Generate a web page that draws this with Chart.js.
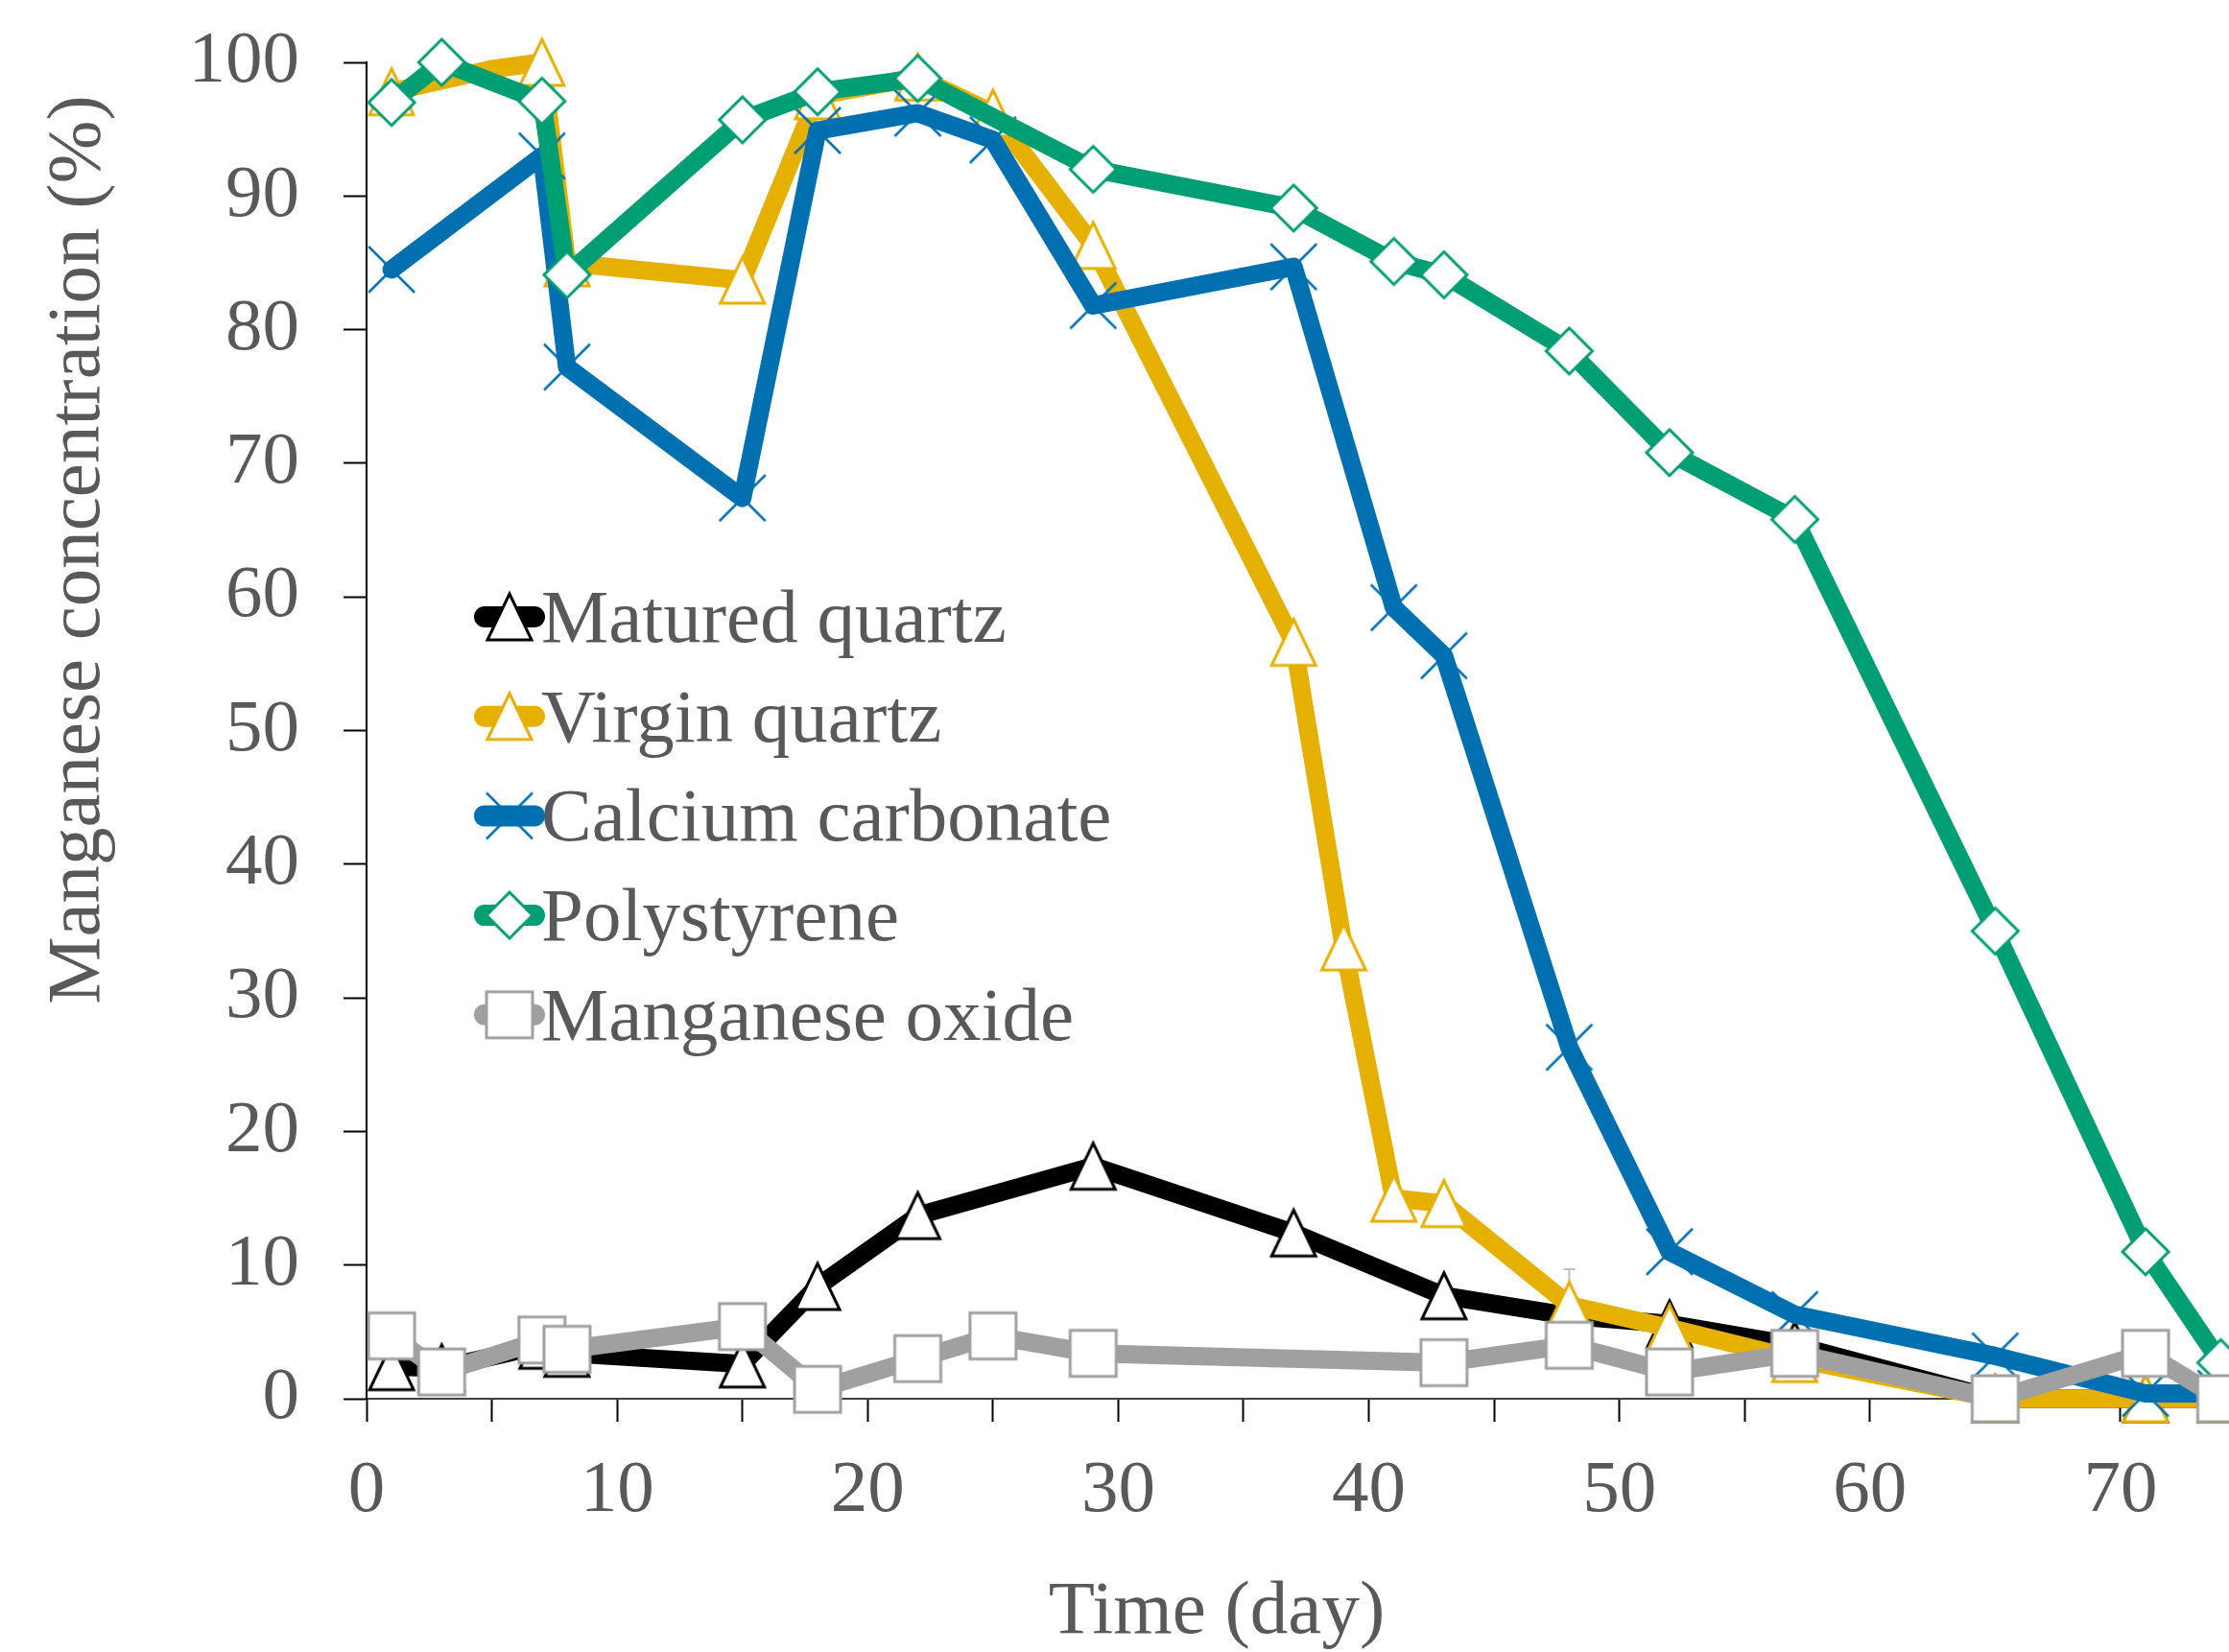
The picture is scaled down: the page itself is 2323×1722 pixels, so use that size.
<!DOCTYPE html>
<html>
<head>
<meta charset="utf-8">
<title>Manganese concentration</title>
<script src="https://cdn.jsdelivr.net/npm/chart.js@4.4.1/dist/chart.umd.min.js"></script>
<style>
  html, body { margin: 0; padding: 0; background: #fff; }
  #wrap { width: 2323px; height: 1722px; overflow: hidden; }
</style>
</head>
<body>
<div id="wrap"><canvas id="chart" width="2323" height="1722"></canvas></div>
<script>
/* Mn concentration vs time, five filter media */

// ── Data ────────────────────────────────────────────────────────────────────
const MATURED_DAYS = [1, 3, 7, 8, 15, 18, 22, 29, 37, 43, 48, 52, 57, 65, 71, 74];
const MATURED_VALS = [2.4, 2.3, 4.0, 3.4, 2.6, 8.4, 13.7, 17.4, 12.4, 7.7, 6.2, 5.6, 4.0, 0, 0, 0];

const VIRGIN_DAYS = [1, 5, 7, 8, 15, 18, 22, 25, 29, 37, 39, 41, 43, 48, 52, 57, 65, 71, 74];
const VIRGIN_VALS = [97.8, 99.5, 100, 85.0, 83.7, 97.5, 98.9, 96.2, 86.3, 56.6, 33.8, 15.0, 14.6, 7.0, 5.3, 3.0, 0, 0, 0];
const VIRGIN_HIDDEN = [5];            // kink in the line, no marker drawn
const VIRGIN_ERR_DAYS = [48];
const VIRGIN_ERR_VALS = [2.7];

const CACO3_DAYS = [1, 7, 8, 15, 18, 22, 25, 29, 37, 41, 43, 48, 52, 57, 65, 71, 74];
const CACO3_VALS = [84.5, 93.0, 77.2, 67.4, 94.9, 96.2, 94.2, 81.8, 84.7, 59.2, 55.6, 26.3, 11.0, 6.3, 3.2, 0.4, 0.4];

const PS_DAYS = [1, 3, 7, 8, 15, 18, 22, 29, 37, 41, 43, 48, 52, 57, 65, 71, 74];
const PS_VALS = [97.0, 100, 97.1, 84.1, 95.7, 97.8, 98.8, 92.0, 89.1, 85.1, 84.1, 78.4, 70.8, 65.8, 35.0, 11.0, 2.7];

const MNOX_DAYS = [1, 3, 7, 8, 15, 18, 22, 25, 29, 43, 48, 52, 57, 65, 71, 74];
const MNOX_VALS = [4.7, 2.0, 4.4, 3.7, 5.4, 0.7, 3.0, 4.7, 3.4, 2.7, 4.0, 2.0, 3.4, 0, 3.4, 0];

const X_TICKS = [0, 5, 10, 15, 20, 25, 30, 35, 40, 45, 50, 55, 60, 65, 70];
const Y_TICKS = [0, 10, 20, 30, 40, 50, 60, 70, 80, 90, 100];

const SERIES_NAMES = ['Matured quartz', 'Virgin quartz', 'Calcium carbonate', 'Polystyrene', 'Manganese oxide'];

// ── Styles ──────────────────────────────────────────────────────────────────
const C_BLACK = '#000000';
const C_GOLD  = '#E6B000';
const C_BLUE  = '#0070B0';
const C_GREEN = '#009E73';
const C_GRAY  = '#A0A0A0';
const TEXT    = '#595959';
const FONT_FAMILY = "'Liberation Serif', 'Times New Roman', serif";
const LINE_W  = 19;

// marker sprites (white fill, coloured outline)
function makeMarker(kind, color) {
  const c = document.createElement('canvas');
  c.width = 60; c.height = 60;
  const g = c.getContext('2d');
  const m = 30, h = 24;
  g.strokeStyle = color;
  g.fillStyle = '#ffffff';
  g.lineWidth = 3;
  g.beginPath();
  if (kind === 'triangle') {
    g.moveTo(m, m - h); g.lineTo(m + 23, m + h); g.lineTo(m - 23, m + h); g.closePath();
    g.fill(); g.stroke();
  } else if (kind === 'diamond') {
    g.moveTo(m, m - h); g.lineTo(m + h, m); g.lineTo(m, m + h); g.lineTo(m - h, m); g.closePath();
    g.fill(); g.stroke();
  } else if (kind === 'square') {
    g.rect(m - h, m - h, 2 * h, 2 * h);
    g.fill(); g.stroke();
  } else if (kind === 'cross') {
    g.lineWidth = 2.5;
    g.moveTo(m - h, m - h); g.lineTo(m + h, m + h);
    g.moveTo(m + h, m - h); g.lineTo(m - h, m + h);
    g.stroke();
  }
  return c;
}

const MARKERS = [
  makeMarker('triangle', C_BLACK),
  makeMarker('triangle', C_GOLD),
  makeMarker('cross', C_BLUE),
  makeMarker('diamond', C_GREEN),
  makeMarker('square', C_GRAY),
];
const COLORS = [C_BLACK, C_GOLD, C_BLUE, C_GREEN, C_GRAY];

const toPts = (days, vals) => days.map((d, i) => ({ x: d, y: vals[i] }));

function series(idx, days, vals, hidden) {
  return {
    label: SERIES_NAMES[idx],
    data: toPts(days, vals),
    borderColor: COLORS[idx],
    borderWidth: LINE_W,
    borderCapStyle: 'round',
    borderJoinStyle: 'round',
    tension: 0,
    fill: false,
    clip: false,
    pointStyle: MARKERS[idx],
    pointRadius: days.map(d => (hidden && hidden.includes(d)) ? 0 : 24),
    order: 5 - idx,          // later series drawn on top
  };
}

const datasets = [
  series(0, MATURED_DAYS, MATURED_VALS),
  series(1, VIRGIN_DAYS, VIRGIN_VALS, VIRGIN_HIDDEN),
  series(2, CACO3_DAYS, CACO3_VALS),
  series(3, PS_DAYS, PS_VALS),
  series(4, MNOX_DAYS, MNOX_VALS),
];

// ── Extras: error bars, legend, axis titles ────────────────────────────────
const errorBars = {
  id: 'errorBars',
  beforeDatasetsDraw(chart) {
    const { ctx, scales: { x, y } } = chart;
    ctx.save();
    ctx.strokeStyle = '#BFBFBF';
    ctx.lineWidth = 2;
    VIRGIN_ERR_DAYS.forEach((d, i) => {
      const v = VIRGIN_VALS[VIRGIN_DAYS.indexOf(d)];
      const px = x.getPixelForValue(d);
      const y0 = y.getPixelForValue(v);
      const y1 = y.getPixelForValue(v + VIRGIN_ERR_VALS[i]);
      ctx.beginPath();
      ctx.moveTo(px, y0); ctx.lineTo(px, y1);
      ctx.moveTo(px - 6, y1); ctx.lineTo(px + 6, y1);
      ctx.stroke();
    });
    ctx.restore();
  }
};

const legendAndTitles = {
  id: 'legendAndTitles',
  afterDraw(chart) {
    const { ctx, chartArea } = chart;
    ctx.save();
    // legend inside the plot, upper-left block
    const lx = chartArea.left + 149;      // marker centre
    const ly0 = chartArea.top + 578;
    const step = 103.7;
    ctx.font = `79px ${FONT_FAMILY}`;
    ctx.textBaseline = 'alphabetic';
    ctx.textAlign = 'left';
    SERIES_NAMES.forEach((name, i) => {
      const cy = ly0 + i * step;
      ctx.strokeStyle = COLORS[i];
      ctx.lineWidth = LINE_W + 3;
      ctx.lineCap = 'round';
      ctx.beginPath();
      ctx.moveTo(lx - 26, cy); ctx.lineTo(lx + 26, cy);
      ctx.stroke();
      const mk = MARKERS[i];
      ctx.drawImage(mk, lx - mk.width / 2, cy - mk.height / 2);
      ctx.fillStyle = TEXT;
      ctx.fillText(name, lx + 33, cy + 26);
    });

    // axis titles
    ctx.fillStyle = TEXT;
    ctx.textAlign = 'center';
    ctx.fillText('Time (day)', 1268, 1702);
    ctx.translate(103, 573);
    ctx.rotate(-Math.PI / 2);
    ctx.fillText('Manganese concentration (%)', 0, 0);
    ctx.restore();
  }
};

// ── Chart ────────────────────────────────────────────────────────────────────
const tickFont = { family: FONT_FAMILY, size: 77 };

new Chart(document.getElementById('chart'), {
  type: 'line',
  data: { datasets },
  options: {
    responsive: false,
    animation: false,
    events: [],
    layout: { autoPadding: false, padding: { top: 65, right: 0, bottom: 0, left: 0 } },
    plugins: {
      legend: { display: false },
      tooltip: { enabled: false },
    },
    scales: {
      x: {
        type: 'linear',
        min: 0,
        max: 74.33,
        afterFit: s => { s.height = 264; s.paddingLeft = 0; s.paddingRight = 0; },
        afterBuildTicks: s => { s.ticks = X_TICKS.map(v => ({ value: v })); },
        ticks: {
          autoSkip: false,
          maxRotation: 0,
          includeBounds: false,
          padding: 27,
          color: TEXT,
          font: tickFont,
          callback: v => (v % 10 === 0 ? String(v) : ''),
        },
        grid: { drawOnChartArea: false, drawTicks: true, tickLength: 24, tickColor: '#000', tickWidth: 2 },
        border: { display: true, color: '#404040', width: 2 },
      },
      y: {
        min: 0,
        max: 100,
        afterFit: s => { s.width = 382; s.paddingTop = 0; s.paddingBottom = 0; },
        afterBuildTicks: s => { s.ticks = Y_TICKS.map(v => ({ value: v })); },
        ticks: { padding: 46, color: TEXT, font: tickFont },
        grid: { drawOnChartArea: false, drawTicks: true, tickLength: 24, tickColor: '#000', tickWidth: 2 },
        border: { display: true, color: '#000', width: 2 },
      },
    },
  },
  plugins: [errorBars, legendAndTitles],
});
</script>
</body>
</html>
